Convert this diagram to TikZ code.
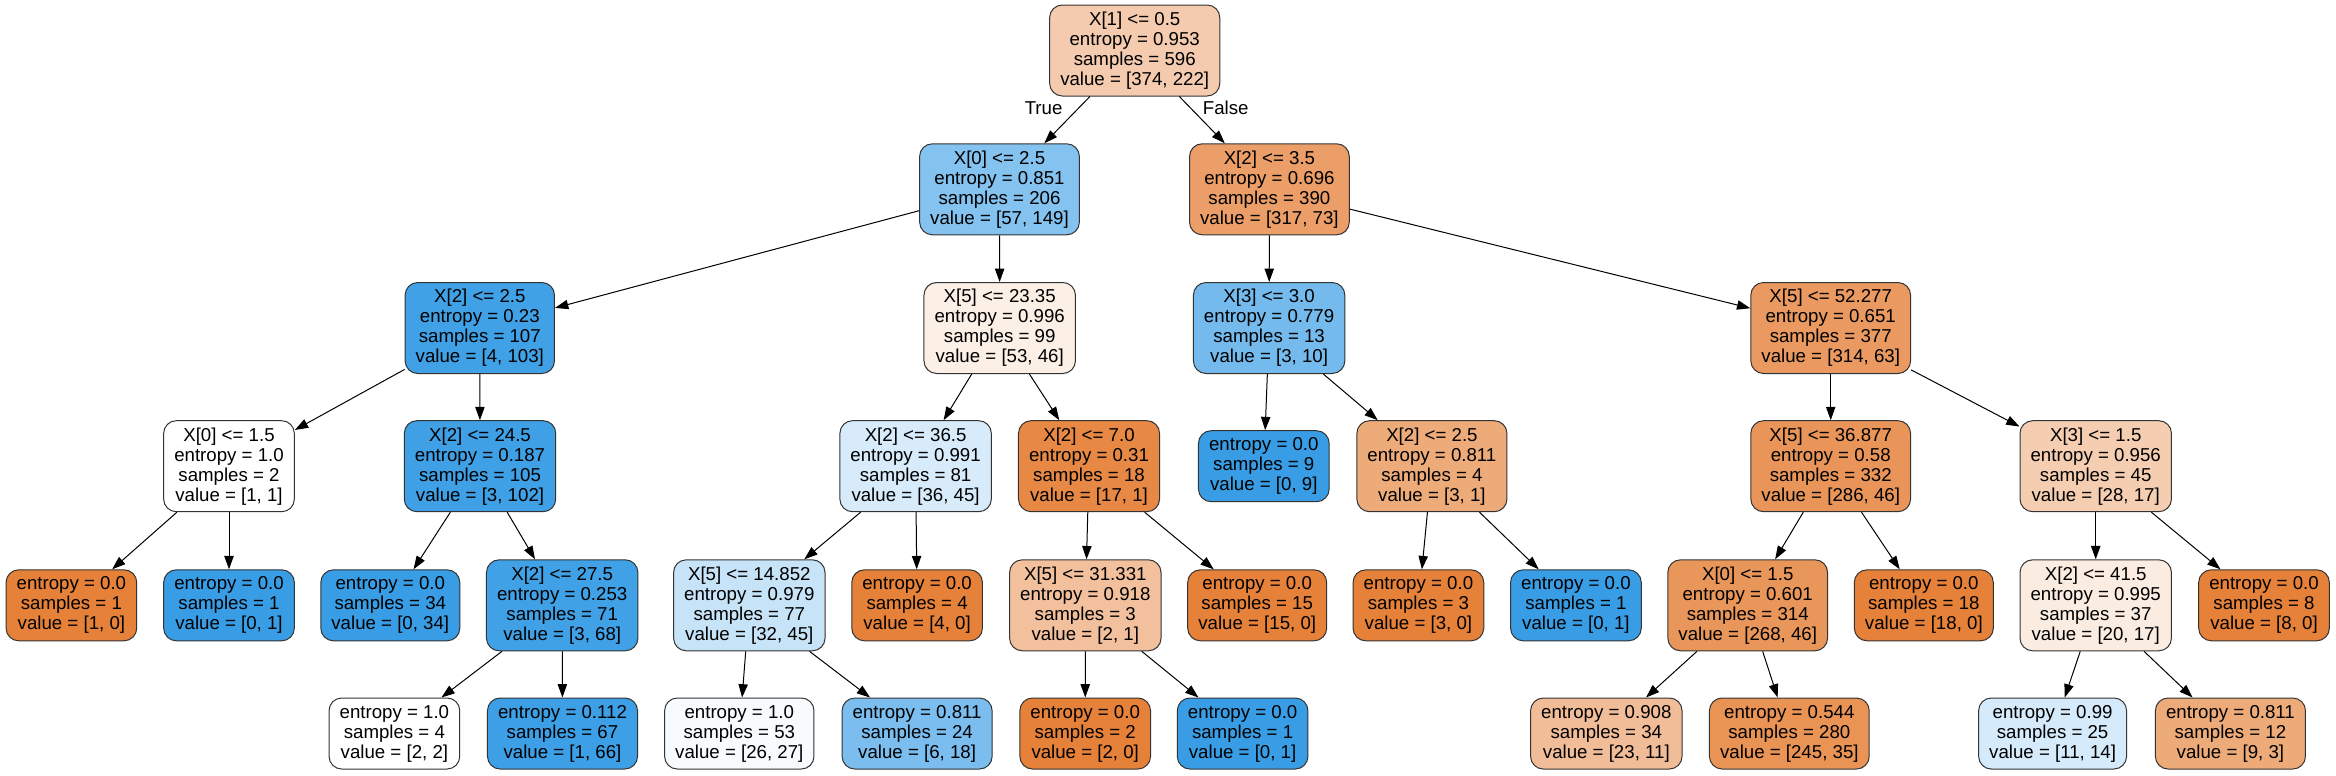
\documentclass[tikz,border=0pt]{standalone}
\usepackage{fontspec}
\setmainfont{Liberation Sans}
\usepackage{tikz}
\usetikzlibrary{arrows.meta}
\definecolor{orangeC}{RGB}{229,129,57}
\definecolor{blueC}{RGB}{57,157,229}
\tikzstyle{cond} = [rectangle, rounded corners=9.5pt, draw=black!80, line width=0.75pt,
align=center, inner xsep=7.95pt, inner ysep=0pt, minimum height=68.25pt, font=\fontsize{14}{15}\selectfont]
\tikzstyle{leaf} = [cond, minimum height=53.25pt]
\tikzstyle{arrow} = [line width=0.75pt, -{Triangle[length=10pt,width=7pt]}]
\tikzstyle{edgelab} = [font=\fontsize{14}{15}\selectfont, inner sep=0pt]
\newcommand{\condl}[4]{#1\\entropy = #2\\samples = #3\\value = #4}
\newcommand{\leafl}[3]{entropy = #1\\samples = #2\\value = #3}

\begin{document}
\begin{tikzpicture}[x=0.75pt, y=-0.75pt]
				\useasboundingbox (0,0) rectangle (2336,775);
				% rank 0
				\node (n0) at (1134.7,50.5) [cond, fill=orangeC!41] {\condl{X[1] <= 0.5}{0.953}{596}{[374, 222]}};
				% rank 1
				\node (n1) at (999.5,189.3) [cond, fill=blueC!62] {\condl{X[0] <= 2.5}{0.851}{206}{[57, 149]}};
				\node (n2) at (1269.4,189.3) [cond, fill=orangeC!77] {\condl{X[2] <= 3.5}{0.696}{390}{[317, 73]}};
				% rank 2
				\node (n3) at (479.8,328) [cond, fill=blueC!96] {\condl{X[2] <= 2.5}{0.23}{107}{[4, 103]}};
				\node (n4) at (999.7,328) [cond, fill=orangeC!13] {\condl{X[5] <= 23.35}{0.996}{99}{[53, 46]}};
				\node (n5) at (1269.1,328) [cond, fill=blueC!70] {\condl{X[3] <= 3.0}{0.779}{13}{[3, 10]}};
				\node (n6) at (1830.7,328) [cond, fill=orangeC!80] {\condl{X[5] <= 52.277}{0.651}{377}{[314, 63]}};
				% rank 3
				\node (n7) at (229,466.2) [cond, fill=white] {\condl{X[0] <= 1.5}{1.0}{2}{[1, 1]}};
				\node (n8) at (480,466.2) [cond, fill=blueC!97] {\condl{X[2] <= 24.5}{0.187}{105}{[3, 102]}};
				\node (n9) at (915.6,466.2) [cond, fill=blueC!20] {\condl{X[2] <= 36.5}{0.991}{81}{[36, 45]}};
				\node (n10) at (1089,466.2) [cond, fill=orangeC!94] {\condl{X[2] <= 7.0}{0.31}{18}{[17, 1]}};
				\node (n11) at (1263.8,466.2) [leaf, fill=blueC] {\leafl{0.0}{9}{[0, 9]}};
				\node (n12) at (1431.9,466.2) [cond, fill=orangeC!67] {\condl{X[2] <= 2.5}{0.811}{4}{[3, 1]}};
				\node (n13) at (1830.7,466.2) [cond, fill=orangeC!84] {\condl{X[5] <= 36.877}{0.58}{332}{[286, 46]}};
				\node (n14) at (2095.7,466.2) [cond, fill=orangeC!39] {\condl{X[3] <= 1.5}{0.956}{45}{[28, 17]}};
				% rank 4
				\node (n15) at (71.4,605.3) [leaf, fill=orangeC] {\leafl{0.0}{1}{[1, 0]}};
				\node (n16) at (229,605.3) [leaf, fill=blueC] {\leafl{0.0}{1}{[0, 1]}};
				\node (n17) at (390.3,605.3) [leaf, fill=blueC] {\leafl{0.0}{34}{[0, 34]}};
				\node (n18) at (562.2,605.3) [cond, fill=blueC!96] {\condl{X[2] <= 27.5}{0.253}{71}{[3, 68]}};
				\node (n19) at (749.3,605.3) [cond, fill=blueC!29] {\condl{X[5] <= 14.852}{0.979}{77}{[32, 45]}};
				\node (n20) at (917.1,605.3) [leaf, fill=orangeC] {\leafl{0.0}{4}{[4, 0]}};
				\node (n21) at (1085.3,605.3) [cond, fill=orangeC!50] {\condl{X[5] <= 31.331}{0.918}{3}{[2, 1]}};
				\node (n22) at (1257.2,605.3) [leaf, fill=orangeC] {\leafl{0.0}{15}{[15, 0]}};
				\node (n23) at (1418.4,605.3) [leaf, fill=orangeC] {\leafl{0.0}{3}{[3, 0]}};
				\node (n24) at (1575.9,605.3) [leaf, fill=blueC] {\leafl{0.0}{1}{[0, 1]}};
				\node (n25) at (1747.7,605.3) [cond, fill=orangeC!83] {\condl{X[0] <= 1.5}{0.601}{314}{[268, 46]}};
				\node (n26) at (1923.8,605.3) [leaf, fill=orangeC] {\leafl{0.0}{18}{[18, 0]}};
				\node (n27) at (2095.7,605.3) [cond, fill=orangeC!15] {\condl{X[2] <= 41.5}{0.995}{37}{[20, 17]}};
				\node (n28) at (2264,605.3) [leaf, fill=orangeC] {\leafl{0.0}{8}{[8, 0]}};
				% rank 5
				\node (n29) at (394.4,733.5) [leaf, fill=white] {\leafl{1.0}{4}{[2, 2]}};
				\node (n30) at (562.5,733.5) [leaf, fill=blueC!98] {\leafl{0.112}{67}{[1, 66]}};
				\node (n31) at (739.3,733.5) [leaf, fill=blueC!4] {\leafl{1.0}{53}{[26, 27]}};
				\node (n32) at (917.1,733.5) [leaf, fill=blueC!67] {\leafl{0.811}{24}{[6, 18]}};
				\node (n33) at (1085.2,733.5) [leaf, fill=orangeC] {\leafl{0.0}{2}{[2, 0]}};
				\node (n34) at (1242.6,733.5) [leaf, fill=blueC] {\leafl{0.0}{1}{[0, 1]}};
				\node (n35) at (1606.3,733.5) [leaf, fill=orangeC!52] {\leafl{0.908}{34}{[23, 11]}};
				\node (n36) at (1789.3,733.5) [leaf, fill=orangeC!86] {\leafl{0.544}{280}{[245, 35]}};
				\node (n37) at (2052.6,733.5) [leaf, fill=blueC!21] {\leafl{0.99}{25}{[11, 14]}};
				\node (n38) at (2230.4,733.5) [leaf, fill=orangeC!67] {\leafl{0.811}{12}{[9, 3]}};
				% edges
				\draw[arrow] (n0) -- (n1);
				\draw[arrow] (n0) -- (n2);
				\node (ltrue) at (1043.6,108) [edgelab] {True};
				\node (lfalse) at (1225.7,108) [edgelab] {False};
				\draw[arrow] (n1) -- (n3);
				\draw[arrow] (n1) -- (n4);
				\draw[arrow] (n2) -- (n5);
				\draw[arrow] (n2) -- (n6);
				\draw[arrow] (n3) -- (n7);
				\draw[arrow] (n3) -- (n8);
				\draw[arrow] (n4) -- (n9);
				\draw[arrow] (n4) -- (n10);
				\draw[arrow] (n5) -- (n11);
				\draw[arrow] (n5) -- (n12);
				\draw[arrow] (n6) -- (n13);
				\draw[arrow] (n6) -- (n14);
				\draw[arrow] (n7) -- (n15);
				\draw[arrow] (n7) -- (n16);
				\draw[arrow] (n8) -- (n17);
				\draw[arrow] (n8) -- (n18);
				\draw[arrow] (n9) -- (n19);
				\draw[arrow] (n9) -- (n20);
				\draw[arrow] (n10) -- (n21);
				\draw[arrow] (n10) -- (n22);
				\draw[arrow] (n12) -- (n23);
				\draw[arrow] (n12) -- (n24);
				\draw[arrow] (n13) -- (n25);
				\draw[arrow] (n13) -- (n26);
				\draw[arrow] (n14) -- (n27);
				\draw[arrow] (n14) -- (n28);
				\draw[arrow] (n18) -- (n29);
				\draw[arrow] (n18) -- (n30);
				\draw[arrow] (n19) -- (n31);
				\draw[arrow] (n19) -- (n32);
				\draw[arrow] (n21) -- (n33);
				\draw[arrow] (n21) -- (n34);
				\draw[arrow] (n25) -- (n35);
				\draw[arrow] (n25) -- (n36);
				\draw[arrow] (n27) -- (n37);
				\draw[arrow] (n27) -- (n38);
\end{tikzpicture}
\end{document}
